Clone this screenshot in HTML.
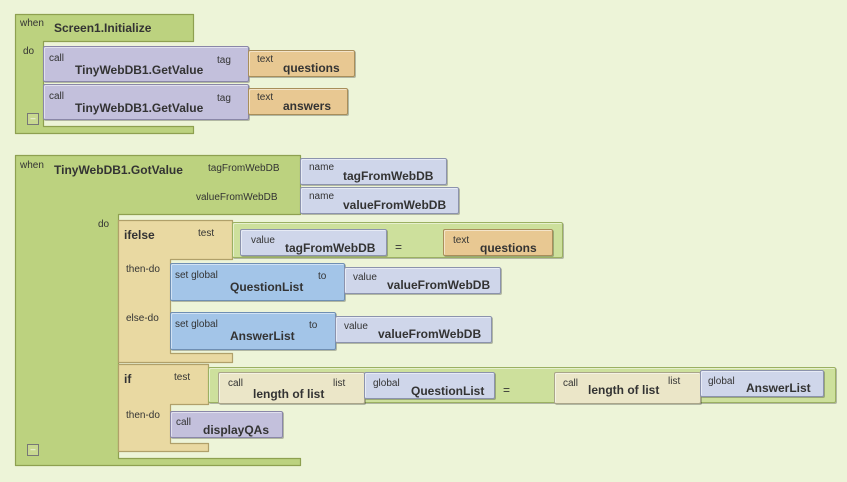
<!DOCTYPE html>
<html><head><meta charset="utf-8"><style>
body{margin:0;width:847px;height:482px;background:#edf4d8;position:relative;overflow:hidden;font-family:"Liberation Sans",sans-serif;color:#333}
svg{position:absolute;left:0;top:0}
.b{position:absolute;box-sizing:border-box;border:1px solid #8a8a6a;border-radius:2px;box-shadow:inset 1px 1px 0 rgba(255,255,255,.5),1px 1px 0 rgba(0,0,0,.25)}
.p{background:#c3c0dc;border-color:#8a87a8}
.t{background:#e8c892;border-color:#a88e5a}
.v{background:#cfd6ea;border-color:#8c93ad}
.bl{background:#a3c5e8;border-color:#6f8fb3}
.l{background:#ebe6c8;border-color:#aaa58a}
.c{background:#cde09c;border-color:#9bb062}
.s{position:absolute;font-size:10px;color:#333}
.k{position:absolute;font-size:12px;font-weight:bold;color:#333}
.m{position:absolute;width:10px;height:10px;border:1px solid #777;background:#c8d890;font-size:9px;line-height:8px;text-align:center;color:#fff}
</style></head><body>
<svg width="847" height="482">
<g stroke-width="1.2" stroke-linejoin="round">
<path d="M15.5,14.5H193.5V41.5H43.5V126.5H193.5V133.5H15.5Z" fill="#bcd27f" stroke="#8ea050"/>
<path d="M15.5,155.5H300.5V214.5H118.5V458.5H300.5V465.5H15.5Z" fill="#bcd27f" stroke="#8ea050"/>
<path d="M118.5,220.5H232.5V259.5H170.5V353.5H232.5V362.5H118.5Z" fill="#e9d9a2" stroke="#b0a06a"/>
<path d="M118.5,364.5H208.5V404.5H170.5V443.5H208.5V451.5H118.5Z" fill="#e9d9a2" stroke="#b0a06a"/>
</g>
</svg>
<div class="s" style="left:20px;top:18px">when</div>
<div class="k" style="left:54px;top:21px">Screen1.Initialize</div>
<div class="s" style="left:23px;top:46px">do</div>
<div class="m" style="left:27px;top:113px">–</div>
<div class="b p" style="left:43px;top:46px;width:206px;height:36px"></div>
<div class="s" style="left:49px;top:53px">call</div>
<div class="k" style="left:75px;top:63px">TinyWebDB1.GetValue</div>
<div class="s" style="left:217px;top:55px">tag</div>
<div class="b t" style="left:248px;top:50px;width:107px;height:27px"></div>
<div class="s" style="left:257px;top:54px">text</div>
<div class="k" style="left:283px;top:61px">questions</div>
<div class="b p" style="left:43px;top:84px;width:206px;height:36px"></div>
<div class="s" style="left:49px;top:91px">call</div>
<div class="k" style="left:75px;top:101px">TinyWebDB1.GetValue</div>
<div class="s" style="left:217px;top:93px">tag</div>
<div class="b t" style="left:248px;top:88px;width:100px;height:27px"></div>
<div class="s" style="left:257px;top:92px">text</div>
<div class="k" style="left:283px;top:99px">answers</div>

<div class="s" style="left:20px;top:160px">when</div>
<div class="k" style="left:54px;top:163px">TinyWebDB1.GotValue</div>
<div class="s" style="left:208px;top:163px">tagFromWebDB</div>
<div class="s" style="left:196px;top:192px">valueFromWebDB</div>
<div class="s" style="left:98px;top:219px">do</div>
<div class="m" style="left:27px;top:444px">–</div>
<div class="b v" style="left:300px;top:158px;width:147px;height:27px"></div>
<div class="s" style="left:309px;top:162px">name</div>
<div class="k" style="left:343px;top:169px">tagFromWebDB</div>
<div class="b v" style="left:300px;top:187px;width:159px;height:27px"></div>
<div class="s" style="left:309px;top:191px">name</div>
<div class="k" style="left:343px;top:198px">valueFromWebDB</div>

<div class="k" style="left:124px;top:228px">ifelse</div>
<div class="s" style="left:198px;top:228px">test</div>
<div class="s" style="left:126px;top:264px">then-do</div>
<div class="s" style="left:126px;top:313px">else-do</div>
<div class="b c" style="left:232px;top:222px;width:331px;height:36px"></div>
<div class="b v" style="left:240px;top:229px;width:147px;height:27px"></div>
<div class="s" style="left:251px;top:235px">value</div>
<div class="k" style="left:285px;top:241px">tagFromWebDB</div>
<div class="s" style="left:395px;top:240px;font-size:12px">=</div>
<div class="b t" style="left:443px;top:229px;width:110px;height:27px"></div>
<div class="s" style="left:453px;top:235px">text</div>
<div class="k" style="left:480px;top:241px">questions</div>
<div class="b bl" style="left:170px;top:263px;width:175px;height:38px"></div>
<div class="s" style="left:175px;top:270px">set global</div>
<div class="k" style="left:230px;top:280px">QuestionList</div>
<div class="s" style="left:318px;top:271px">to</div>
<div class="b v" style="left:344px;top:267px;width:157px;height:27px"></div>
<div class="s" style="left:353px;top:272px">value</div>
<div class="k" style="left:387px;top:278px">valueFromWebDB</div>
<div class="b bl" style="left:170px;top:312px;width:166px;height:38px"></div>
<div class="s" style="left:175px;top:319px">set global</div>
<div class="k" style="left:230px;top:329px">AnswerList</div>
<div class="s" style="left:309px;top:320px">to</div>
<div class="b v" style="left:335px;top:316px;width:157px;height:27px"></div>
<div class="s" style="left:344px;top:321px">value</div>
<div class="k" style="left:378px;top:327px">valueFromWebDB</div>

<div class="k" style="left:124px;top:372px">if</div>
<div class="s" style="left:174px;top:372px">test</div>
<div class="s" style="left:126px;top:410px">then-do</div>
<div class="b c" style="left:208px;top:367px;width:628px;height:36px"></div>
<div class="b l" style="left:218px;top:372px;width:147px;height:32px"></div>
<div class="s" style="left:228px;top:378px">call</div>
<div class="k" style="left:253px;top:387px">length of list</div>
<div class="s" style="left:333px;top:378px">list</div>
<div class="b v" style="left:364px;top:372px;width:131px;height:27px"></div>
<div class="s" style="left:373px;top:378px">global</div>
<div class="k" style="left:411px;top:384px">QuestionList</div>
<div class="s" style="left:503px;top:383px;font-size:12px">=</div>
<div class="b l" style="left:554px;top:372px;width:147px;height:32px"></div>
<div class="s" style="left:563px;top:378px">call</div>
<div class="k" style="left:588px;top:383px">length of list</div>
<div class="s" style="left:668px;top:376px">list</div>
<div class="b v" style="left:700px;top:370px;width:124px;height:27px"></div>
<div class="s" style="left:708px;top:376px">global</div>
<div class="k" style="left:746px;top:381px">AnswerList</div>
<div class="b p" style="left:170px;top:411px;width:113px;height:27px"></div>
<div class="s" style="left:176px;top:417px">call</div>
<div class="k" style="left:203px;top:423px">displayQAs</div>
</body></html>
